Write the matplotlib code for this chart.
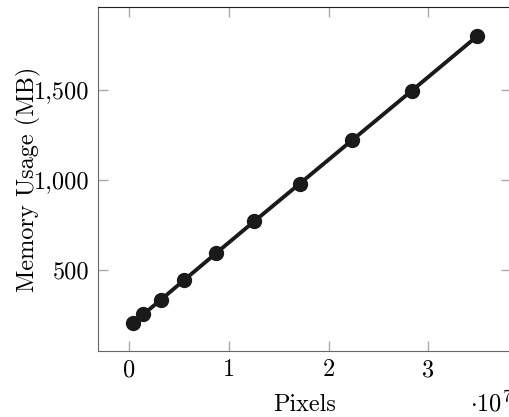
import numpy as np
import matplotlib
matplotlib.use("Agg")
import matplotlib.pyplot as plt
from matplotlib.ticker import FuncFormatter

pixels = [0.034e7, 0.141e7, 0.315e7, 0.552e7, 0.870e7, 1.255e7, 1.711e7, 2.236e7, 2.835e7, 3.494e7]
memory_mb = [206, 252, 332, 443, 591, 769, 978, 1219, 1494, 1798]

x_ticks = [0, 1e7, 2e7, 3e7]
x_tick_labels = ["0", "1", "2", "3"]
y_ticks = [500, 1000, 1500]

plt.rcParams["font.family"] = "serif"
plt.rcParams["font.serif"] = ["cmr10"]
plt.rcParams["mathtext.fontset"] = "cm"
plt.rcParams["axes.formatter.use_mathtext"] = True
plt.rcParams["axes.unicode_minus"] = False

W, H = 510, 417
fig = plt.figure(figsize=(W / 100, H / 100), dpi=100)
left, right, top, bottom = 97.7, 511, 7.3, 351
ax = fig.add_axes([left / W, 1 - bottom / H, (right - left) / W, (bottom - top) / H])

ax.plot(pixels, memory_mb, color="#1a1a1a", lw=2.8, marker="o", ms=10,
        solid_capstyle="round")

ax.set_xlim(-0.317e7, 3.832e7)
ax.set_ylim(48.3, 1957.8)
ax.set_xticks(x_ticks)
ax.set_xticklabels(x_tick_labels)
ax.set_yticks(y_ticks)
ax.yaxis.set_major_formatter(FuncFormatter(lambda v, p: f"{v:,.0f}"))

fs = 17.5
ax.tick_params(direction="in", length=7, width=1, color="#aaaaaa",
               top=True, right=True, labelsize=fs, pad=6)
for s in ("left", "bottom"):
    ax.spines[s].set_color("#666666")
ax.spines["top"].set_color("#222222")
ax.spines["right"].set_color("#666666")

ax.set_xlabel("Pixels", fontsize=fs)
ax.set_ylabel("Memory Usage (MB)", fontsize=fs)
ax.xaxis.set_label_coords(0.5, -(394 - bottom) / (bottom - top))
ax.yaxis.set_label_coords((41 - left) / (right - left), 0.5)

fig.text(470 / W, 1 - 411 / H, r"$\cdot 10^{7}$", fontsize=fs, va="baseline", ha="left")

fig.savefig("out.png", dpi=100)
